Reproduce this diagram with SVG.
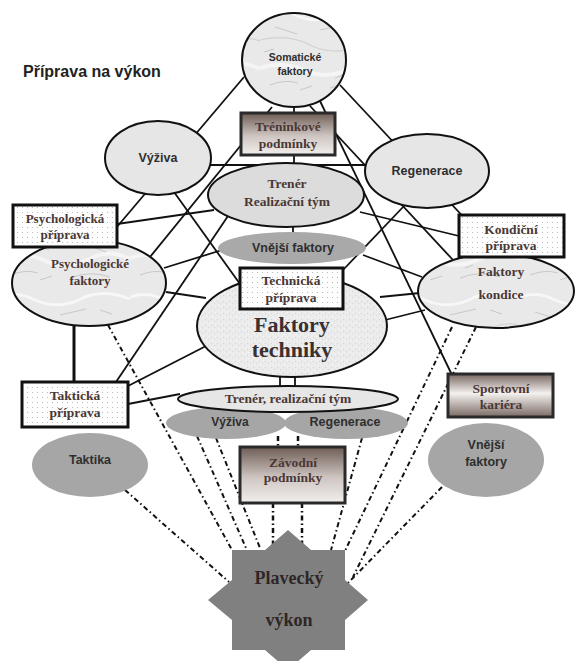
<svg xmlns="http://www.w3.org/2000/svg" width="575" height="661" viewBox="0 0 575 661">
<defs>
<style>
.ln{stroke:#111;stroke-width:1.8;fill:none}
.dd{stroke:#111;stroke-width:2;fill:none;stroke-dasharray:5 3 1.5 3}
.ol{stroke:#111;stroke-width:2}
.bx{stroke:#111;stroke-width:3}
.gb{stroke:#2a2a2a;stroke-width:3}
.sans{font-family:"Liberation Sans",Arial,sans-serif;font-weight:bold;fill:#2e2e2e;text-anchor:middle}
.serif{font-family:"Liberation Serif","Times New Roman",serif;font-weight:bold;fill:#4a3836;text-anchor:middle}
</style>
<pattern id="marble" patternUnits="userSpaceOnUse" width="130" height="95">
<rect width="130" height="95" fill="#e9e9e9"/>
<path d="M0 12 Q18 6 35 15 Q60 26 85 12 Q105 4 130 14" stroke="#f7f7f7" stroke-width="3" fill="none"/>
<path d="M0 40 Q30 33 52 46 Q80 58 104 42 Q118 36 130 41" stroke="#d2d2d2" stroke-width="1.2" fill="none"/>
<path d="M0 68 Q22 60 48 72 Q70 80 96 66 Q112 60 130 69" stroke="#f5f5f5" stroke-width="4" fill="none"/>
<path d="M10 85 q15 -6 28 -2 M70 88 q20 -8 40 -1 M15 27 l22 7 M60 30 l26 -6 M35 55 l14 5 M88 55 l18 7" stroke="#c8c8c8" stroke-width="1" fill="none"/>
<path d="M4 52 l10 -3 M40 90 l12 -4 M100 25 l12 4 M75 78 l8 -3" stroke="#bcbcbc" stroke-width="0.8" fill="none"/>
</pattern>
<pattern id="speck" patternUnits="userSpaceOnUse" width="6" height="6">
<rect width="6" height="6" fill="#ebebeb"/>
<rect x="1" y="1" width="1" height="1" fill="#d2d2d2"/>
<rect x="4" y="3" width="1" height="1" fill="#d8d8d8"/>
<rect x="2" y="4" width="1" height="1" fill="#f8f8f8"/>
<rect x="5" y="0" width="1" height="1" fill="#f6f6f6"/>
</pattern>
<pattern id="dots" patternUnits="userSpaceOnUse" width="5" height="5">
<rect width="5" height="5" fill="#fdfdfd"/>
<circle cx="2.5" cy="2.5" r="0.6" fill="#b0b0b0"/>
</pattern>
<linearGradient id="brown" x1="0" y1="0" x2="0" y2="1">
<stop offset="0" stop-color="#6e5c55"/>
<stop offset="0.55" stop-color="#cfc6c2"/>
<stop offset="1" stop-color="#f2efed"/>
</linearGradient>
<linearGradient id="brown2" x1="0" y1="0" x2="0" y2="1">
<stop offset="0" stop-color="#76665f"/>
<stop offset="0.45" stop-color="#f4f1ef"/>
<stop offset="1" stop-color="#7a6a64"/>
</linearGradient>
</defs>
<rect width="575" height="661" fill="#ffffff"/>
<text id="title" x="23" y="77" font-family="'Liberation Sans',Arial,sans-serif" font-weight="bold" font-size="16" fill="#222">Příprava na výkon</text>

<g id="connectors">
<path class="ln" d="M244 77 L105 241"/>
<path class="ln" d="M272 107 L150 257"/>
<path class="ln" d="M294 107 L294 113"/>
<path class="ln" d="M320 101 L452 375"/>
<path class="ln" d="M310 106 L453 260"/>
<path class="ln" d="M340 85 L500 256"/>
<path class="ln" d="M205 165 L372 165"/>
<path class="ln" d="M294 155 L294 164"/>
<path class="ln" d="M293 226 L293 233"/>
<path class="ln" d="M117 224 L214 210"/>
<path class="ln" d="M360 212 L459 236"/>
<path class="ln" d="M164 268 L222 250"/>
<path class="ln" d="M166 292 L206 298"/>
<path class="ln" d="M174 192 L240 284"/>
<path class="ln" d="M404 206 L343 270"/>
<path class="ln" d="M363 255 L422 277"/>
<path class="ln" d="M380 297 L420 293"/>
<path class="ln" d="M385 320 L425 310"/>
<path class="ln" d="M228 216 L116 382"/>
<path class="ln" d="M128 386 L208 345"/>
<path class="ln" d="M128 404 L180 394"/>
<path class="ln" d="M74 322 L74 382" style="stroke-width:3"/>
<path class="ln" d="M280 376 L280 388"/>
<path class="ln" d="M295 376 L295 388"/>
<path class="dd" d="M108 325 L232 550"/>
<path class="dd" d="M197 436 L246 548"/>
<path class="dd" d="M216 438 L260 548"/>
<path class="dd" d="M125 490 L229 582"/>
<path class="dd" d="M362 438 L331 550"/>
<path class="dd" d="M452 327 L344 553"/>
<path class="dd" d="M476 327 L353 577"/>
<path class="dd" d="M442 487 L347 584"/>
<path class="dd" d="M278 436 L278 447" style="stroke-width:2.5"/>
<path class="dd" d="M298 436 L298 447" style="stroke-width:2.5"/>
<path class="dd" d="M273 503 L273 548" style="stroke-width:2.5"/>
<path class="dd" d="M302 503 L302 548" style="stroke-width:2.5"/>
</g>

<g id="somaticke">
<ellipse cx="294" cy="60" rx="52" ry="47" fill="url(#marble)" class="ol"/>
<text class="sans" font-size="10.5" x="295" y="61">Somatické</text>
<text class="sans" font-size="10.5" x="295" y="75">faktory</text>
</g>
<g id="treninkove">
<rect x="241" y="113" width="94" height="42" fill="url(#brown)" class="gb"/>
<text class="serif" font-size="13.5" x="288" y="131">Tréninkové</text>
<text class="serif" font-size="13.5" x="288" y="148">podmínky</text>
</g>
<g id="vyziva">
<ellipse cx="158" cy="158" rx="53" ry="37" fill="#e6e6e6" class="ol"/>
<text class="sans" font-size="12.5" x="158" y="162">Výživa</text>
</g>
<g id="regenerace">
<ellipse cx="427" cy="171" rx="62" ry="37" fill="#e6e6e6" class="ol"/>
<text class="sans" font-size="12.5" x="427" y="175">Regenerace</text>
</g>
<g id="trener">
<ellipse cx="286" cy="195" rx="78" ry="32" fill="#dcdcdc" class="ol"/>
<text class="serif" font-size="13.5" x="287" y="188">Trenér</text>
<text class="serif" font-size="13.5" x="287" y="206">Realizační tým</text>
</g>
<g id="vnejsi-stred">
<ellipse cx="292" cy="248" rx="74" ry="16" fill="#a9a9a9"/>
<text class="sans" font-size="12.5" x="293" y="252">Vnější faktory</text>
</g>
<g id="psych-faktory">
<ellipse cx="89" cy="283" rx="77" ry="43" fill="url(#marble)" class="ol"/>
<text class="serif" font-size="13" x="90" y="268">Psychologické</text>
<text class="serif" font-size="13" x="90" y="285">faktory</text>
</g>
<g id="psych-priprava">
<rect x="13" y="205" width="104" height="42" fill="url(#dots)" class="bx"/>
<text class="serif" font-size="13" x="65" y="223">Psychologická</text>
<text class="serif" font-size="13" x="65" y="239">příprava</text>
</g>
<g id="faktory-kondice">
<ellipse cx="496" cy="291" rx="78" ry="37" fill="url(#marble)" class="ol"/>
<text class="serif" font-size="13.5" x="501" y="276">Faktory</text>
<text class="serif" font-size="13.5" x="501" y="299">kondice</text>
</g>
<g id="kondicni-priprava">
<rect x="459" y="215" width="105" height="42" fill="url(#dots)" class="bx"/>
<text class="serif" font-size="13.5" x="511" y="234">Kondiční</text>
<text class="serif" font-size="13.5" x="511" y="250">příprava</text>
</g>
<g id="faktory-techniky">
<ellipse cx="292" cy="326" rx="95" ry="51" fill="url(#speck)" class="ol"/>
<text class="serif" font-size="22" x="292" y="332" style="fill:#3a3030">Faktory</text>
<text class="serif" font-size="22" x="292" y="357" style="fill:#3a3030">techniky</text>
</g>
<g id="technicka-priprava">
<rect x="240" y="268" width="103" height="41" fill="url(#dots)" class="bx"/>
<text class="serif" font-size="13.5" x="291" y="285">Technická</text>
<text class="serif" font-size="13.5" x="291" y="302">příprava</text>
</g>
<g id="takticka-priprava">
<rect x="22" y="382" width="106" height="45" fill="url(#dots)" class="bx"/>
<text class="serif" font-size="13.5" x="75" y="400">Taktická</text>
<text class="serif" font-size="13.5" x="75" y="417">příprava</text>
</g>
<g id="vyziva-regenerace-dole">
<ellipse cx="226" cy="423" rx="60" ry="16" fill="#a6a6a6"/>
<ellipse cx="346" cy="423" rx="62" ry="16" fill="#a6a6a6"/>
<text class="sans" font-size="12" x="230" y="426">Výživa</text>
<text class="sans" font-size="12.5" x="345" y="426">Regenerace</text>
</g>
<g id="trener-dole">
<ellipse cx="288" cy="399" rx="110" ry="13" fill="#e6e6e6" class="ol"/>
<text class="serif" font-size="13.5" x="288" y="403">Trenér, realizační tým</text>
</g>
<g id="sportovni-kariera">
<rect x="448" y="374" width="105" height="43" fill="url(#brown2)" class="gb"/>
<text class="serif" font-size="13.5" x="501" y="393">Sportovní</text>
<text class="serif" font-size="13.5" x="501" y="409">kariéra</text>
</g>
<g id="zavodni-podminky">
<rect x="240" y="447" width="105" height="56" fill="url(#brown)" class="gb"/>
<text class="serif" font-size="13.5" x="293" y="467">Závodní</text>
<text class="serif" font-size="13.5" x="293" y="482">podmínky</text>
</g>
<g id="taktika">
<ellipse cx="90" cy="465" rx="58" ry="32" fill="#a6a6a6"/>
<text class="sans" font-size="12.5" x="90" y="464">Taktika</text>
</g>
<g id="vnejsi-faktory">
<ellipse cx="486" cy="460" rx="58" ry="37" fill="#a6a6a6"/>
<text class="sans" font-size="12.5" x="486" y="449">Vnější</text>
<text class="sans" font-size="12.5" x="486" y="466">faktory</text>
</g>
<g id="plavecky-vykon">
<polygon points="288,530 311,550 345,550 345,580 368,600 345,620 345,650 311,650 288,670 265,650 232,650 232,620 208,600 232,580 232,550 265,550" fill="#808080"/>
<text class="serif" font-size="18" x="289" y="584" style="fill:#2e2626">Plavecký</text>
<text class="serif" font-size="18" x="289" y="626" style="fill:#2e2626">výkon</text>
</g>
</svg>
